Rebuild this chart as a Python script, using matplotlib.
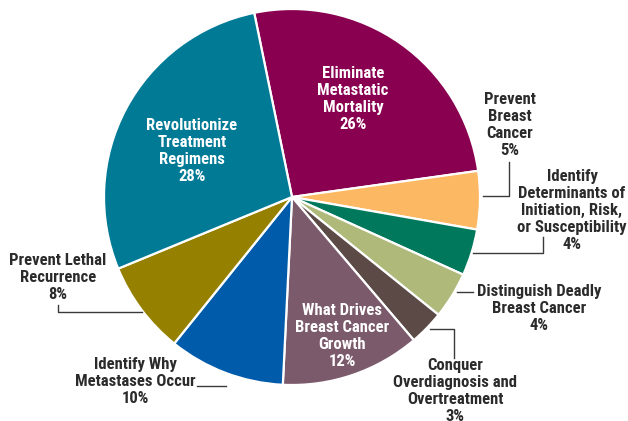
import matplotlib.pyplot as plt

# slices, clockwise from the top
labels = ['Eliminate\nMetastatic\nMortality', 'Prevent\nBreast\nCancer',
          'Identify\nDeterminants of\nInitiation, Risk,\nor Susceptibility',
          'Distinguish Deadly\nBreast Cancer',
          'Conquer\nOverdiagnosis and\nOvertreatment',
          'What Drives\nBreast Cancer\nGrowth',
          'Identify Why\nMetastases Occur',
          'Prevent Lethal\nRecurrence',
          'Revolutionize\nTreatment\nRegimens']
shares = [26, 5, 4, 4, 3, 12, 10, 8, 28]
colors = ['#8a0050', '#fdb863', '#00785c', '#afb97a', '#5c4a46',
          '#7b5a6c', '#005baa', '#958000', '#017a96']

H = 421
fig = plt.figure(figsize=(6.28, 4.21), dpi=100)
ax = fig.add_axes([0, 0, 1, 1])

ax.pie(shares, colors=colors, center=(292, H - 197), radius=188,
       startangle=101.6, counterclock=False, frame=True,
       wedgeprops=dict(edgecolor='white', linewidth=1.6))
ax.set_xlim(0, 628)
ax.set_ylim(0, H)
ax.set_aspect('equal')
ax.axis('off')

# label positions (text centre x, top y in image pixels), text colour
pos = [(353, 66, 'white'), (510, 92, '#2b2b2b'), (572, 169, '#2b2b2b'),
       (539, 284, '#2b2b2b'), (455, 358, '#2b2b2b'), (342, 303, 'white'),
       (135, 357, '#2b2b2b'), (58, 253, '#2b2b2b'), (192, 118, 'white')]

for lab, s, (x, y, c) in zip(labels, shares, pos):
    ax.text(x, H - y, f'{lab}\n{s}%', ha='center', va='top', color=c,
            fontsize=12, fontweight='bold', family='Roboto Condensed',
            linespacing=1.17)

# leader lines (image pixel coords)
leaders = [
    [(509, 162), (509, 196), (483, 196)],
    [(543, 237), (543, 253), (473, 253)],
    [(473, 292), (457, 292)],
    [(454, 358), (454, 329), (430, 329)],
    [(197, 386), (226, 386)],
    [(58, 305), (58, 312), (142, 312)],
]
for pts in leaders:
    ax.plot([p[0] for p in pts], [H - p[1] for p in pts], color='#3a3a3a', lw=1)

fig.savefig('out.png', dpi=100)
